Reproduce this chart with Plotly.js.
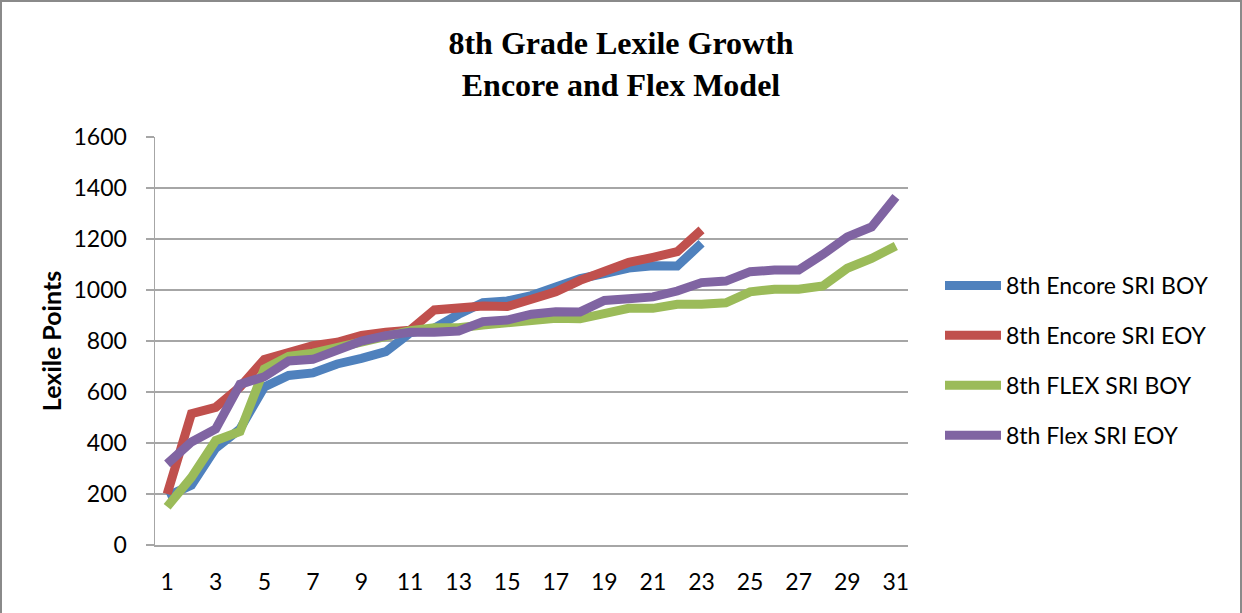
<!DOCTYPE html>
<html>
<head>
<meta charset="utf-8">
<script src="https://cdn.plot.ly/plotly-3.0.1.min.js"></script>
<style>
  html, body { margin: 0; padding: 0; background: #fff; }
  #wrap { position: relative; width: 1242px; height: 613px; overflow: hidden; }
  #chart { position: absolute; left: 0; top: 0; width: 1242px; height: 613px; }
  #frame { position: absolute; left: 0; top: 0; width: 1242px; height: 640px; box-sizing: border-box;
           border: 2px solid #8a8a8a; pointer-events: none; }
</style>
</head>
<body>
<div id="wrap"><div id="chart"></div><div id="frame"></div></div>
<script>
const students = Array.from({length: 31}, (_, i) => i + 1);
const xTickVals = [1, 3, 5, 7, 9, 11, 13, 15, 17, 19, 21, 23, 25, 27, 29, 31];

const encoreBOY = [192, 235, 380, 455, 620, 665, 675, 710, 732, 758, 832, 850, 905, 950, 957, 978, 1012, 1045, 1064, 1086, 1095, 1094, 1183];
const encoreEOY = [200, 515, 540, 620, 728, 752, 782, 795, 822, 834, 842, 922, 933, 937, 935, 963, 993, 1038, 1076, 1108, 1128, 1150, 1236];
const flexBOY = [150, 265, 410, 445, 690, 740, 752, 775, 795, 815, 840, 852, 852, 863, 872, 878, 889, 887, 907, 928, 928, 944, 944, 950, 993, 1003, 1003, 1016, 1085, 1124, 1173];
const flexEOY = [318, 404, 455, 630, 660, 722, 728, 762, 800, 821, 834, 834, 839, 876, 882, 905, 915, 914, 959, 966, 973, 996, 1029, 1035, 1072, 1078, 1078, 1140, 1208, 1247, 1365];

const seriesNames = ['8th Encore SRI BOY', '8th Encore SRI EOY', '8th FLEX SRI BOY', '8th Flex SRI EOY'];
const seriesColors = ['#4F81BD', '#C0504D', '#9BBB59', '#8064A2'];
const seriesData = [encoreBOY, encoreEOY, flexBOY, flexEOY];

const traces = seriesData.map((vals, k) => ({
  type: 'scatter',
  mode: 'lines',
  x: students.slice(0, vals.length),
  y: vals,
  name: seriesNames[k],
  legendgroup: 'g' + k,
  line: { color: seriesColors[k], width: 9, shape: 'linear' }
}));

const gridGray = '#a6a6a6';

const layout = {
  width: 1242,
  height: 613,
  paper_bgcolor: '#ffffff',
  plot_bgcolor: '#ffffff',
  margin: { l: 155, r: 334, t: 137, b: 68 },
  title: {
    text: '<b>8th Grade Lexile Growth<br>Encore and Flex Model</b>',
    font: { family: 'Liberation Serif, Times New Roman, serif', size: 32, color: '#000' },
    xref: 'container', x: 0.5, xanchor: 'center',
    yref: 'container', y: 1 - 54 / 613, yanchor: 'top'
  },
  xaxis: {
    range: [0.5, 31.5],
    tickmode: 'array',
    tickvals: xTickVals,
    ticktext: xTickVals.map(String),
    showgrid: false,
    zeroline: false,
    showline: true,
    linecolor: gridGray,
    linewidth: 1.5,
    ticks: '',
    ticklabelstandoff: 16,
    tickfont: { family: 'Lato, Carlito, Calibri, sans-serif', size: 23, color: '#000' },
    fixedrange: true
  },
  yaxis: {
    range: [0, 1600],
    dtick: 200,
    tick0: 0,
    showgrid: true,
    gridcolor: gridGray,
    gridwidth: 1.5,
    zeroline: false,
    showline: true,
    linecolor: gridGray,
    linewidth: 1.5,
    ticks: 'outside',
    ticklen: 8,
    tickcolor: gridGray,
    tickwidth: 1.5,
    ticklabelstandoff: 14,
    tickfont: { family: 'Lato, Carlito, Calibri, sans-serif', size: 23, color: '#000' },
    title: {
      text: '<b>Lexile Points</b>',
      font: { family: 'Lato, Carlito, Calibri, sans-serif', size: 25, color: '#000' },
      standoff: 5
    },
    automargin: false,
    fixedrange: true
  },
  showlegend: true,
  legend: {
    xref: 'container', yref: 'container',
    x: 940 / 1242, xanchor: 'left',
    y: 1 - 264 / 613, yanchor: 'top',
    bgcolor: 'rgba(0,0,0,0)',
    font: { family: 'Lato, Carlito, Calibri, sans-serif', size: 23, color: '#000' },
    itemwidth: 56,
    tracegroupgap: 17,
    traceorder: 'grouped'
  }
};

Plotly.newPlot('chart', traces, layout, { staticPlot: true, displayModeBar: false });
</script>
</body>
</html>
